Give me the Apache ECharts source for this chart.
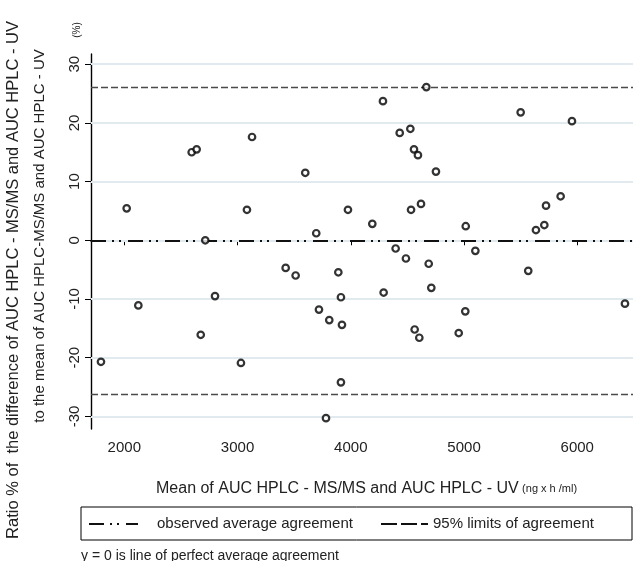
<!DOCTYPE html>
<html>
<head>
<meta charset="utf-8">
<script src="https://cdn.jsdelivr.net/npm/echarts@6/dist/echarts.min.js"></script>
<style>
  html, body { margin: 0; padding: 0; background: #fff; }
  #chart { width: 633px; height: 561px; }
</style>
</head>
<body>
<div id="chart"></div>
<script>
// mean of the two AUC values (ng x h / ml)
const meanAuc = [
  2021, 2595, 2639, 3128, 3083, 2715, 4284, 4667, 4432, 4526,
  4558, 4593, 4752, 3598, 3975, 4190, 3695, 4532, 4620, 4396,
  5500, 5953, 5853, 5724, 5709, 5635, 5015, 5100, 1794, 2124,
  2675, 2801, 3030, 4487, 4688, 3425, 3513, 3890, 4711, 3913,
  4290, 3719, 3810, 3922, 4564, 4605, 3913, 3781, 5567, 5011,
  4953, 6421
];
// ratio % of the difference to the mean
const ratioPct = [
  5.45, 15.0, 15.5, 17.6, 5.2, 0.0, 23.7, 26.1, 18.3, 19.0,
  15.5, 14.5, 11.7, 11.5, 5.2, 2.8, 1.2, 5.2, 6.2, -1.4,
  21.8, 20.3, 7.5, 5.9, 2.6, 1.75, 2.4, -1.8, -20.7, -11.1,
  -16.1, -9.5, -20.9, -3.1, -4.0, -4.7, -6.0, -5.45, -8.1, -9.7,
  -8.9, -11.8, -13.6, -14.4, -15.2, -16.6, -24.2, -30.3, -5.2, -12.1,
  -15.8, -10.8
];
const xTicks = [2000, 3000, 4000, 5000, 6000];
const yTicks = [-30, -20, -10, 0, 10, 20, 30];
const averageAgreement = 0;
const limitsOfAgreement = [26.0, -26.2];

const FONT = '"Liberation Sans", Arial, sans-serif';
const dashDotDot = [15, 6, 2, 5, 2, 7];

const chart = echarts.init(document.getElementById('chart'));

const option = {
  animation: false,
  backgroundColor: '#fff',
  grid: { left: 91, top: 54, width: 542, height: 375 },
  xAxis: {
    type: 'value',
    min: 1706,
    max: 6492,
    axisLine: { lineStyle: { color: '#000', width: 1.6 } },
    axisTick: { customValues: xTicks, length: 5, lineStyle: { color: '#000' } },
    axisLabel: {
      customValues: xTicks,
      formatter: v => String(v),
      margin: 11,
      fontFamily: FONT,
      fontSize: 15,
      color: '#222'
    },
    splitLine: { show: false }
  },
  yAxis: {
    type: 'value',
    min: -32.15,
    max: 31.74,
    axisLine: { show: true, lineStyle: { color: '#000', width: 1.4 } },
    axisTick: { show: true, customValues: yTicks, length: 6, lineStyle: { color: '#000' } },
    axisLabel: {
      customValues: yTicks,
      formatter: v => String(v),
      rotate: 90,
      margin: 9,
      fontFamily: FONT,
      fontSize: 15,
      color: '#222'
    },
    splitLine: { show: false }
  },
  series: [
    {
      // light grid lines
      type: 'scatter',
      data: [],
      silent: true,
      z: 1,
      markLine: {
        silent: true,
        symbol: 'none',
        label: { show: false },
        lineStyle: { color: '#e1eaee', width: 2, type: 'solid' },
        data: yTicks.map(v => ({ yAxis: v }))
      }
    },
    {
      // reference lines
      type: 'scatter',
      data: [],
      silent: true,
      z: 2,
      markLine: {
        silent: true,
        symbol: 'none',
        label: { show: false },
        data: [
          { yAxis: averageAgreement, lineStyle: { color: '#111', width: 2, type: dashDotDot } },
          ...limitsOfAgreement.map(v => ({
            yAxis: v,
            lineStyle: { color: '#4a4a4a', width: 1.4, type: [7, 3] }
          }))
        ]
      }
    },
    {
      type: 'scatter',
      z: 5,
      data: meanAuc.map((x, i) => [x, ratioPct[i]]),
      symbol: 'circle',
      symbolSize: 6.5,
      itemStyle: { color: '#fff', borderColor: '#000', borderWidth: 2.2 }
    }
  ],
  graphic: [
    {
      type: 'text',
      x: 13, y: 280, rotation: Math.PI / 2,
      style: {
        text: 'Ratio % of  the difference of AUC HPLC - MS/MS and AUC HPLC - UV',
        font: '16.5px ' + FONT, fill: '#222', align: 'center', verticalAlign: 'middle'
      }
    },
    {
      type: 'text',
      x: 40, y: 236, rotation: Math.PI / 2,
      style: {
        text: 'to the mean of AUC HPLC-MS/MS and AUC HPLC - UV',
        font: '15px ' + FONT, fill: '#222', align: 'center', verticalAlign: 'middle'
      }
    },
    {
      type: 'text',
      x: 77, y: 30, rotation: Math.PI / 2,
      style: { text: '(%)', font: '10px ' + FONT, fill: '#222', align: 'center', verticalAlign: 'middle' }
    },
    {
      type: 'text',
      x: 156, y: 489,
      style: {
        text: '{a|Mean of AUC HPLC - MS/MS and AUC HPLC - UV} {b|(ng x h /ml)}',
        rich: {
          a: { fontFamily: FONT, fontSize: 16, fill: '#222', color: '#222' },
          b: { fontFamily: FONT, fontSize: 11, fill: '#222', color: '#222' }
        },
        verticalAlign: 'middle'
      }
    },
    {
      type: 'rect',
      shape: { x: 81, y: 507, width: 551, height: 33 },
      style: { fill: 'none', stroke: '#000', lineWidth: 1 }
    },
    {
      type: 'line',
      shape: { x1: 89, y1: 524, x2: 138, y2: 524 },
      style: { stroke: '#111', lineWidth: 2, lineDash: [15, 6, 2, 5, 2, 7] }
    },
    {
      type: 'text',
      x: 157, y: 524,
      style: { text: 'observed average agreement', font: '15px ' + FONT, fill: '#222', verticalAlign: 'middle' }
    },
    {
      type: 'line',
      shape: { x1: 381, y1: 524, x2: 428, y2: 524 },
      style: { stroke: '#111', lineWidth: 2, lineDash: [16, 4] }
    },
    {
      type: 'text',
      x: 433, y: 524,
      style: { text: '95% limits of agreement', font: '15px ' + FONT, fill: '#222', verticalAlign: 'middle' }
    },
    {
      type: 'text',
      x: 81, y: 556,
      style: { text: 'y = 0 is line of perfect average agreement', font: '14px ' + FONT, fill: '#222', verticalAlign: 'middle' }
    }
  ]
};

chart.setOption(option);
</script>
</body>
</html>
